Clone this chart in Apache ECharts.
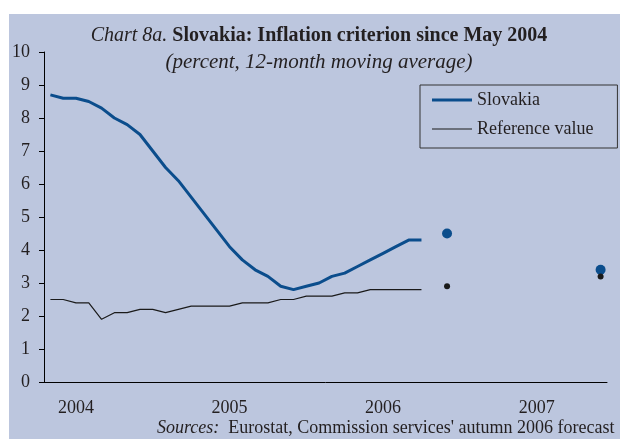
<!DOCTYPE html>
<html>
<head>
<meta charset="utf-8">
<script src="https://cdn.jsdelivr.net/npm/echarts@6/dist/echarts.min.js"></script>
<style>
  html, body { margin: 0; padding: 0; background: #fff; }
  #chart { width: 620px; height: 439px; }
</style>
</head>
<body>
<div id="chart"></div>
<script>
// months from May 2004 to Dec 2007
var months = [
    'May 04', 'Jun 04', 'Jul 04', 'Aug 04', 'Sep 04', 'Oct 04', 'Nov 04', 'Dec 04',
    'Jan 05', 'Feb 05', 'Mar 05', 'Apr 05', 'May 05', 'Jun 05', 'Jul 05', 'Aug 05',
    'Sep 05', 'Oct 05', 'Nov 05', 'Dec 05',
    'Jan 06', 'Feb 06', 'Mar 06', 'Apr 06', 'May 06', 'Jun 06', 'Jul 06', 'Aug 06',
    'Sep 06', 'Oct 06', 'Nov 06', 'Dec 06',
    'Jan 07', 'Feb 07', 'Mar 07', 'Apr 07', 'May 07', 'Jun 07', 'Jul 07', 'Aug 07',
    'Sep 07', 'Oct 07', 'Nov 07', 'Dec 07'
];
var yearLabels = {'Jul 04': '2004', 'Jul 05': '2005', 'Jul 06': '2006', 'Jul 07': '2007'};
var tickMonths = ['Dec 04', 'Dec 05', 'Dec 06', 'Dec 07'];

// 12-month moving average, percent
var slovakia = [8.7, 8.6, 8.6, 8.5, 8.3, 8.0, 7.8, 7.5, 7.0, 6.5, 6.1, 5.6,
    5.1, 4.6, 4.1, 3.7, 3.4, 3.2, 2.9, 2.8, 2.9, 3.0, 3.2, 3.3,
    3.5, 3.7, 3.9, 4.1, 4.3, 4.3];
var reference = [2.5, 2.5, 2.4, 2.4, 1.9, 2.1, 2.1, 2.2, 2.2, 2.1, 2.2, 2.3,
    2.3, 2.3, 2.3, 2.4, 2.4, 2.4, 2.5, 2.5, 2.6, 2.6, 2.6, 2.7,
    2.7, 2.8, 2.8, 2.8, 2.8, 2.8];

// autumn 2006 forecast
var forecastMonths = ['Dec 06', 'Dec 07'];
var slovakiaForecast = [4.5, 3.4];
var referenceForecast = [2.9, 3.2];

var blue = '#0b4d8c';
var ink = '#231f20';
var serif = '"Liberation Serif", "Times New Roman", serif';

function pairs(xs, ys) {
    return xs.map(function(x, i) { return [x, ys[i]]; });
}

var myChart = echarts.init(document.getElementById('chart'));

myChart.setOption({
    animation: false,
    textStyle: {fontFamily: serif, color: ink},
    graphic: [
        {
            type: 'rect', z: -100, silent: true,
            shape: {x: 9, y: 14, width: 611, height: 425},
            style: {fill: '#bcc6de'}
        },
        {
            type: 'text', left: 157, top: 419,
            style: {
                text: '{i|Sources:}  Eurostat, Commission services\' autumn 2006 forecast',
                font: '18px ' + serif, fill: ink,
                rich: {i: {fontStyle: 'italic', fontSize: 18, fontFamily: serif}}
            }
        }
    ],
    title: [
        {
            left: 314, top: 21, textAlign: 'center',
            text: '{i|Chart 8a.} {b|Slovakia: Inflation criterion since May 2004}',
            textStyle: {
                fontSize: 20, color: ink, fontWeight: 'normal',
                rich: {
                    i: {fontStyle: 'italic', fontWeight: 'normal', fontSize: 20, fontFamily: serif, color: ink},
                    b: {fontWeight: 'bold', fontSize: 20, fontFamily: serif, color: ink}
                }
            }
        },
        {
            left: 314, top: 47, textAlign: 'center',
            text: '(percent, 12-month moving average)',
            textStyle: {fontSize: 21, fontStyle: 'italic', fontWeight: 'normal', color: ink}
        }
    ],
    legend: {
        data: [
            {name: 'Slovakia', icon: 'path://M0,0H40V3H0Z'},
            {name: 'Reference value', icon: 'path://M0,0H40V1H0Z'}
        ],
        orient: 'vertical',
        left: 420, top: 85,
        padding: [6, 24, 10, 12],
        itemGap: 11,
        itemWidth: 40, itemHeight: 3,
        borderColor: '#333', borderWidth: 1,
        textStyle: {fontSize: 18, color: ink, fontFamily: serif, lineHeight: 18}
    },
    grid: {left: 44, right: 13, top: 52, bottom: 57},
    xAxis: [
        {
            type: 'category',
            data: months,
            boundaryGap: true,
            axisLine: {lineStyle: {color: '#000', width: 1}},
            axisTick: {
                alignWithLabel: true, length: 4,
                lineStyle: {color: '#000'},
                interval: function(index, value) { return tickMonths.indexOf(value) >= 0; }
            },
            axisLabel: {
                margin: 17, fontSize: 18, color: ink, fontFamily: serif,
                interval: function(index, value) { return !!yearLabels[value]; },
                formatter: function(value) { return yearLabels[value] || ''; }
            }
        },
        {
            type: 'category',
            position: 'bottom',
            data: months,
            boundaryGap: true,
            axisLine: {show: false},
            axisTick: {
                inside: true, alignWithLabel: true, length: 4,
                lineStyle: {color: '#000'},
                interval: function(index, value) { return tickMonths.indexOf(value) >= 0; }
            },
            axisLabel: {show: false}
        }
    ],
    yAxis: {
        type: 'value',
        min: 0, max: 10, interval: 1,
        splitLine: {show: false},
        axisLine: {show: true, lineStyle: {color: '#000', width: 1}},
        axisTick: {show: true, length: 5, lineStyle: {color: '#000'}},
        axisLabel: {margin: 14, fontSize: 18, color: ink, fontFamily: serif}
    },
    series: [
        {
            name: 'Slovakia',
            type: 'line',
            data: slovakia,
            symbol: 'none',
            color: blue,
            lineStyle: {color: blue, width: 3},
            z: 4
        },
        {
            name: 'Reference value',
            type: 'line',
            data: reference,
            symbol: 'none',
            color: '#1a1a1a',
            lineStyle: {color: '#1a1a1a', width: 1.2},
            z: 3
        },
        {
            name: 'Slovakia forecast',
            type: 'scatter',
            data: pairs(forecastMonths, slovakiaForecast),
            symbolSize: 10,
            itemStyle: {color: blue, opacity: 1},
            z: 4
        },
        {
            name: 'Reference forecast',
            type: 'scatter',
            data: pairs(forecastMonths, referenceForecast),
            symbolSize: 6,
            itemStyle: {color: '#1a1a1a', opacity: 1},
            z: 5
        }
    ]
});
</script>
</body>
</html>
